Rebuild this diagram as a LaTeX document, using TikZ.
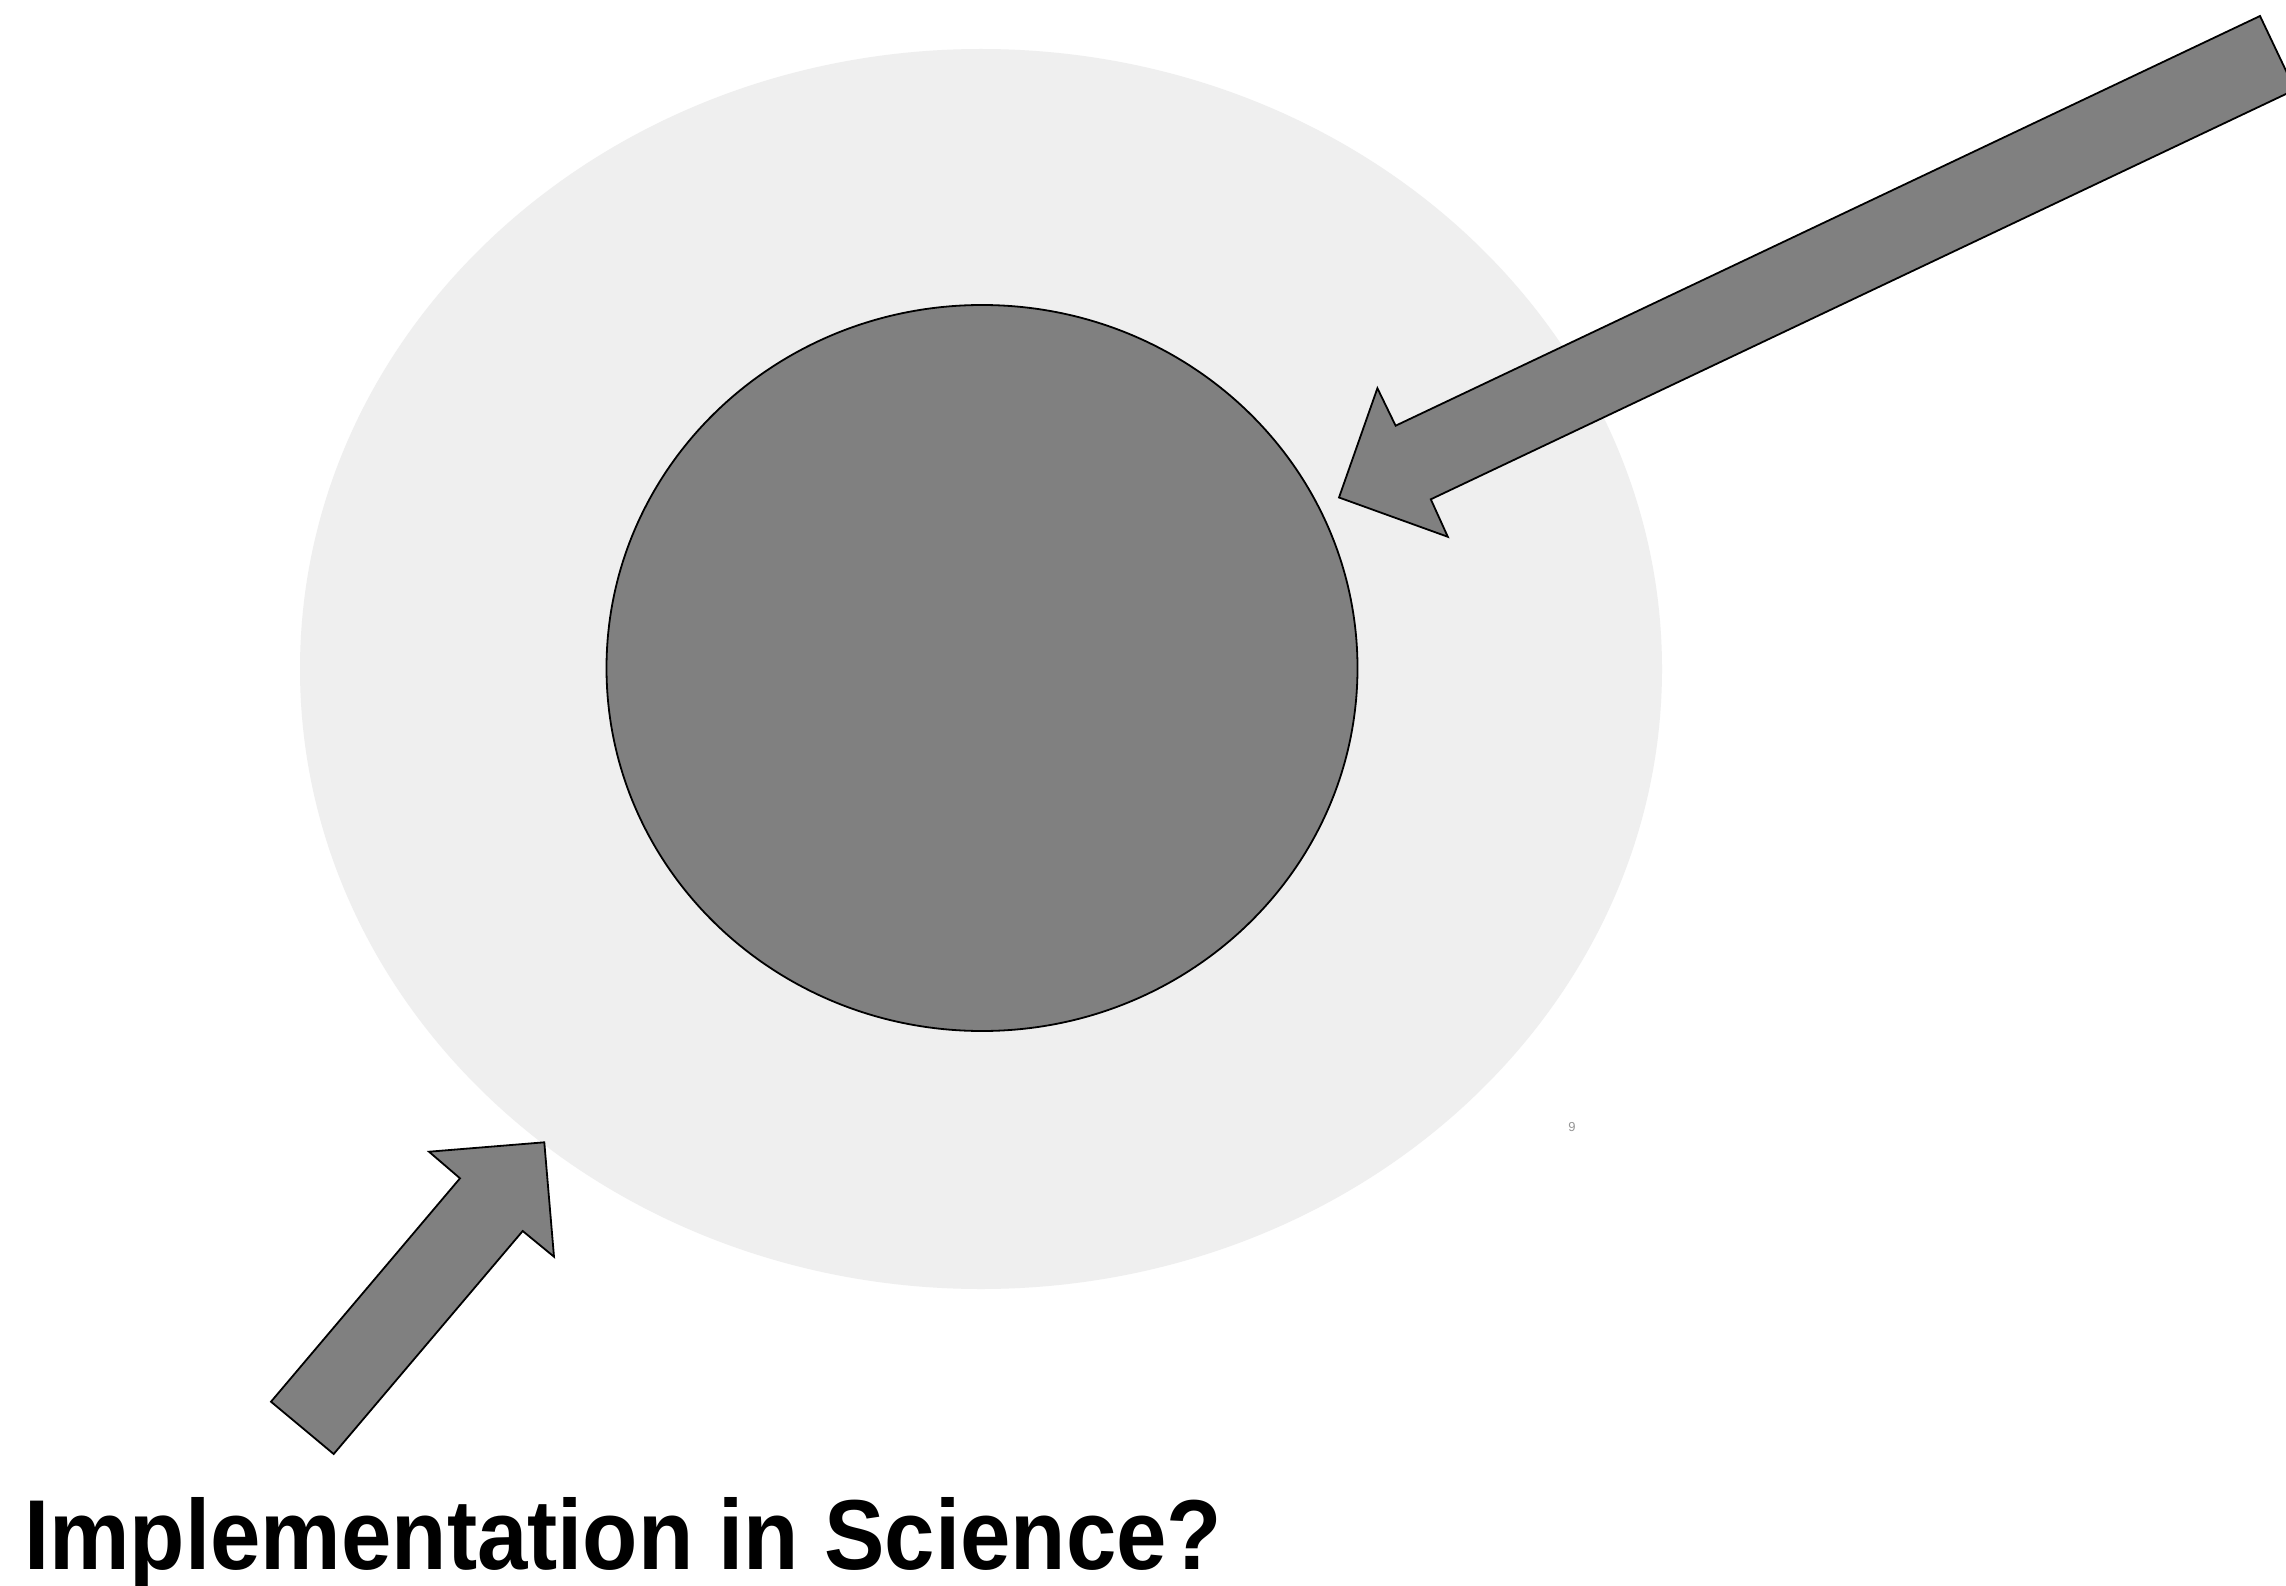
\documentclass[tikz,border=0pt]{standalone}
\usepackage{fontspec}
\setmainfont{Liberation Sans}
\usepackage{graphicx}
\definecolor{halo}{RGB}{239,239,239}
\definecolor{core}{RGB}{128,128,128}
\definecolor{pagenum}{RGB}{150,150,150}
\tikzset{
  blockarrow/.style={fill=core, draw=black, line width=1.8pt, line join=miter},
  coreshape/.style={fill=core, draw=black, line width=1.8pt},
}
\begin{document}
\begin{tikzpicture}[x=1pt,y=-1pt]
\useasboundingbox (0,0) rectangle (2286,1586);
\clip (0,0) rectangle (2286,1586);
\fill[white] (0,0) rectangle (2286,1586);
% outer light ellipse
\fill[halo] (981,669) ellipse [x radius=681, y radius=620];
% inner circle
\draw[coreshape] (982,668) ellipse [x radius=375.5, y radius=363];
\coordinate (center) at (982,668);
% page number
\node[text=pagenum, font=\fontsize{13}{13}\selectfont, inner sep=0] (pnum) at (1572,1127) {9};
% top-right arrow
\coordinate (a1t1) at (2260,16);
\coordinate (a1s1) at (1395.6,425.7);
\coordinate (a1b1) at (1377.4,388.2);
\coordinate (a1tip) at (1339,497.5);
\coordinate (a1b2) at (1447.8,536.8);
\coordinate (a1s2) at (1430.8,499.3);
\coordinate (a1t2) at (2295,89.7);
\draw[blockarrow] (a1t1) -- (a1s1) -- (a1b1) -- (a1tip) -- (a1b2) -- (a1s2) -- (a1t2) -- cycle;
% bottom-left arrow
\coordinate (a2tip) at (544.3,1142.3);
\coordinate (a2b1) at (429,1151.7);
\coordinate (a2s1) at (460,1178.3);
\coordinate (a2t1) at (271,1401.7);
\coordinate (a2t2) at (333.7,1454);
\coordinate (a2s2) at (522.7,1231);
\coordinate (a2b2) at (554,1256.7);
\draw[blockarrow] (a2tip) -- (a2b1) -- (a2s1) -- (a2t1) -- (a2t2) -- (a2s2) -- (a2b2) -- cycle;
% title
\node[anchor=base west, inner sep=0] (title) at (24,1569)
  {\resizebox{1198pt}{72pt}{\bfseries Implementation in Science?}};
\end{tikzpicture}
\end{document}
